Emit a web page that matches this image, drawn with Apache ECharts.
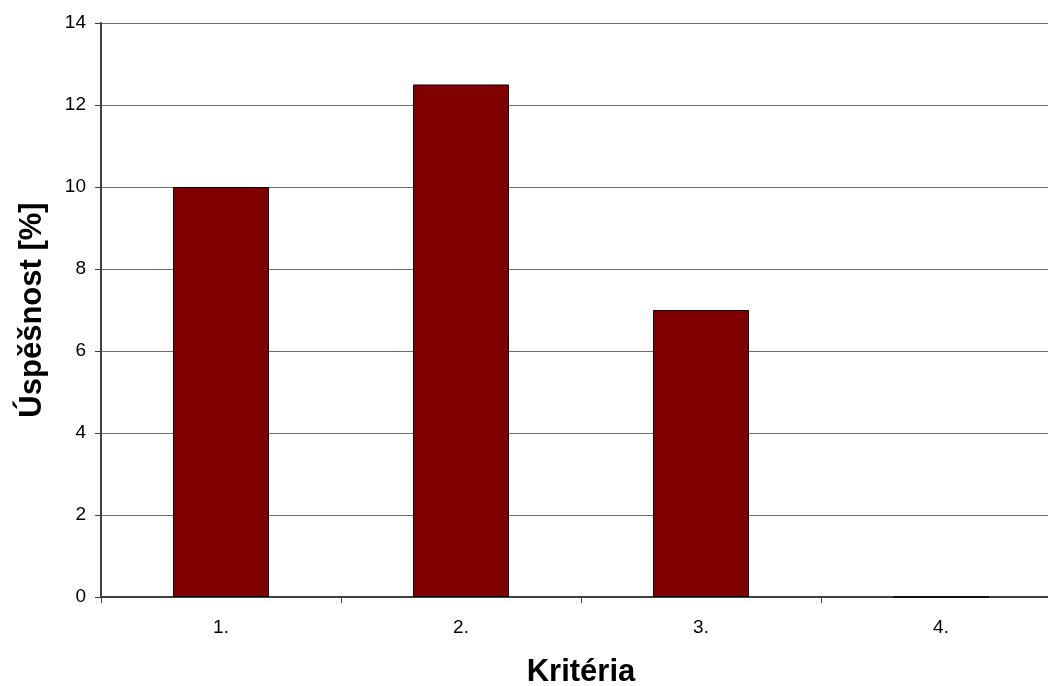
<!DOCTYPE html>
<html>
<head>
<meta charset="utf-8">
<script src="https://cdn.jsdelivr.net/npm/echarts@6/dist/echarts.min.js"></script>
<style>
  html, body { margin: 0; padding: 0; background: #fff; }
  #chart { width: 1048px; height: 686px; }
</style>
</head>
<body>
<div id="chart"></div>
<script>
// Success rate per criterion
const categories = ['1.', '2.', '3.', '4.'];
const values = [10, 12.5, 7, 0];
const yTicks = { min: 0, max: 14, interval: 2 };

const chart = echarts.init(document.getElementById('chart'), null, { renderer: 'canvas' });

chart.setOption({
  animation: false,
  backgroundColor: '#ffffff',
  textStyle: { fontFamily: 'Liberation Sans, Arial, sans-serif' },
  grid: {
    left: 101, top: 23, width: 960, height: 574,
    containLabel: false,
    outerBoundsMode: 'none'
  },
  xAxis: {
    type: 'category',
    data: categories,
    name: 'Kritéria',
    nameLocation: 'middle',
    nameGap: 60,
    nameTextStyle: { fontSize: 31, fontWeight: 'bold', color: '#000' },
    axisLine: { lineStyle: { color: '#404040', width: 2 } },
    axisTick: { show: true, length: 6, lineStyle: { color: '#404040' } },
    axisLabel: { fontSize: 19, color: '#000', margin: 21 },
    splitLine: { show: false }
  },
  yAxis: {
    type: 'value',
    min: yTicks.min,
    max: yTicks.max,
    interval: yTicks.interval,
    name: 'Úspěšnost [%]',
    nameLocation: 'middle',
    nameGap: 53,
    nameRotate: 90,
    nameTextStyle: { fontSize: 31, fontWeight: 'bold', color: '#000' },
    axisLine: { show: true, lineStyle: { color: '#404040', width: 2 } },
    axisTick: { show: true, length: 6, lineStyle: { color: '#404040' } },
    axisLabel: { fontSize: 19, color: '#000', margin: 15 },
    splitLine: { show: true, lineStyle: { color: '#6e6e6e', width: 1 } }
  },
  series: [{
    type: 'bar',
    data: values,
    barWidth: '40%',
    itemStyle: { color: '#800000', borderColor: '#000', borderWidth: 1 }
  }]
});
</script>
</body>
</html>
